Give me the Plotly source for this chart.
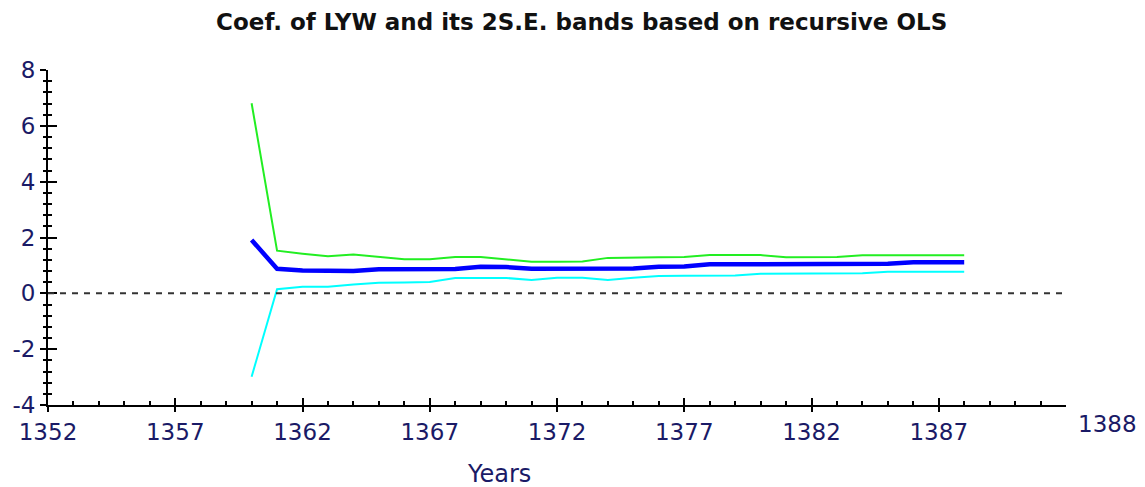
import plotly.graph_objects as go

# Recursive OLS estimate of the LYW coefficient with its +/- 2 S.E. bands
years = list(range(1360, 1389))

coef = [1.91, 0.88, 0.82, 0.80, 0.80, 0.86, 0.87, 0.87, 0.87, 0.95,
        0.94, 0.88, 0.88, 0.88, 0.88, 0.89, 0.95, 0.96, 1.04, 1.04,
        1.04, 1.04, 1.04, 1.04, 1.04, 1.06, 1.11, 1.11, 1.11]

upper_band = [6.81, 1.53, 1.42, 1.33, 1.39, 1.30, 1.22, 1.22, 1.30, 1.30,
              1.22, 1.13, 1.13, 1.14, 1.27, 1.29, 1.29, 1.30, 1.37, 1.37,
              1.37, 1.29, 1.29, 1.30, 1.36, 1.36, 1.36, 1.36, 1.36]

lower_band = [-2.99, 0.15, 0.24, 0.24, 0.32, 0.38, 0.39, 0.41, 0.55, 0.55,
              0.55, 0.48, 0.56, 0.56, 0.48, 0.56, 0.62, 0.63, 0.63, 0.64,
              0.70, 0.70, 0.70, 0.70, 0.72, 0.77, 0.77, 0.77, 0.77]

x_ticks = [1352, 1357, 1362, 1367, 1372, 1377, 1382, 1387]
x_tick_labels = ["1352", "1357", "1362", "1367", "1372", "1377", "1382", "1387"]
y_ticks = [-4, -2, 0, 2, 4, 6, 8]
y_tick_labels = ["-4", "-2", "0", "2", "4", "6", "8"]
end_label = "1388"

X_RANGE = [1352, 1392]
Y_RANGE = [-4, 8]
LABEL_FONT = dict(family="DejaVu Sans", size=23, color="#1a1a66")

fig = go.Figure()

fig.add_trace(go.Scatter(x=years, y=upper_band, mode="lines",
                         line=dict(color="#22ee22", width=2), showlegend=False))
fig.add_trace(go.Scatter(x=years, y=lower_band, mode="lines",
                         line=dict(color="#00ffff", width=2), showlegend=False))
fig.add_trace(go.Scatter(x=years, y=coef, mode="lines",
                         line=dict(color="#0000ff", width=4.5), showlegend=False))
# empty trace so the overlay axes (inner tick marks) get drawn
fig.add_trace(go.Scatter(x=[], y=[], xaxis="x2", yaxis="y2", showlegend=False))

# zero reference line
fig.add_hline(y=0, line=dict(color="#333333", width=2, dash="6px,6px"))

fig.update_layout(
    width=1145, height=487,
    margin=dict(l=43, r=79, t=70, b=82),
    plot_bgcolor="white", paper_bgcolor="white",
    title=dict(text="<b>Coef. of LYW and its 2S.E. bands based on recursive OLS</b>",
               x=0.508, xanchor="center", y=1 - 22 / 487, yanchor="middle",
               font=dict(family="DejaVu Sans", size=23, color="#111111")),
    xaxis=dict(range=X_RANGE, showgrid=False, zeroline=False,
               showline=True, linecolor="black", linewidth=2,
               tickmode="array", tickvals=x_ticks, ticktext=x_tick_labels,
               ticks="outside", ticklen=5, tickwidth=2, tickcolor="black",
               tickfont=LABEL_FONT),
    yaxis=dict(range=Y_RANGE, showgrid=False, zeroline=False,
               showline=True, linecolor="black", linewidth=2,
               tickmode="array", tickvals=y_ticks, ticktext=y_tick_labels,
               ticks="outside", ticklen=6, tickwidth=2, tickcolor="black",
               minor=dict(tickmode="linear", tick0=-4, dtick=0.4, ticks="outside",
                          ticklen=3, tickwidth=2, tickcolor="black", showgrid=False),
               tickfont=LABEL_FONT),
    xaxis2=dict(range=X_RANGE, overlaying="x", anchor="y", side="bottom",
                showgrid=False, zeroline=False, showline=False,
                tickmode="array", tickvals=x_ticks, showticklabels=False,
                ticks="inside", ticklen=7, tickwidth=2, tickcolor="black",
                minor=dict(tickmode="linear", tick0=1352, dtick=1, ticks="inside",
                           ticklen=4, tickwidth=2, tickcolor="black", showgrid=False)),
    yaxis2=dict(range=Y_RANGE, overlaying="y", anchor="x", side="left",
                showgrid=False, zeroline=False, showline=False,
                tickmode="array", tickvals=y_ticks, showticklabels=False,
                ticks="inside", ticklen=9, tickwidth=2, tickcolor="black",
                minor=dict(tickmode="linear", tick0=-4, dtick=0.4, ticks="inside",
                           ticklen=4, tickwidth=2, tickcolor="black", showgrid=False)),
    annotations=[
        dict(text="Years", xref="paper", yref="paper", x=0.443, y=-0.206,
             xanchor="center", yanchor="middle", showarrow=False,
             font=dict(family="DejaVu Sans", size=24, color="#1a1a66")),
        dict(text=end_label, xref="paper", yref="paper", x=1.041, y=-0.057,
             xanchor="center", yanchor="middle", showarrow=False,
             font=LABEL_FONT),
    ],
)

fig.write_html("out.html")
